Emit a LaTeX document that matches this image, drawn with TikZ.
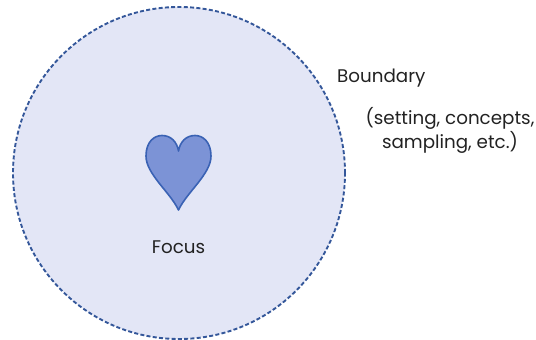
\documentclass[tikz,border=0pt]{standalone}
\usepackage{fontspec}
\setmainfont{Poppins}
\definecolor{bgfill}{HTML}{E3E6F6}
\definecolor{bline}{HTML}{34579A}
\definecolor{hfill}{HTML}{7C93D6}
\definecolor{hline}{HTML}{3A62B4}
\definecolor{txt}{HTML}{222222}
\tikzset{
  boundarycircle/.style={circle, draw=bline, fill=bgfill, line width=1.9pt, dash pattern=on 4pt off 2.3pt, minimum size=332pt, inner sep=0pt},
  lbl/.style={text=txt, font=\fontsize{18.3}{24}\selectfont, inner sep=0pt},
  heartstyle/.style={fill=hfill, draw=hline, line width=1.6pt, line join=round}
}
\begin{document}
\begin{tikzpicture}[x=1pt,y=1pt]
\useasboundingbox (0,0) rectangle (536,340);
\node[boundarycircle] (bnd) at (179,167) {};
\draw[heartstyle] (178.5,130)
  .. controls (170,148) and (146,166) .. (146,184)
  .. controls (146,198) and (154,204.5) .. (162,204.5)
  .. controls (171,204.5) and (177,198) .. (178.5,189)
  .. controls (180,198) and (186,204.5) .. (195,204.5)
  .. controls (203,204.5) and (211,198) .. (211,184)
  .. controls (211,166) and (187,148) .. (178.5,130) -- cycle;
\coordinate (heart) at (178.5,170);
\node[lbl] (focus) at (178.5,93) {Focus};
\node[lbl, anchor=west] (boundary) at (337,262) {Boundary};
\node[lbl, align=center] (detail) at (450,210) {(setting, concepts,\\sampling, etc.)};
\end{tikzpicture}
\end{document}
